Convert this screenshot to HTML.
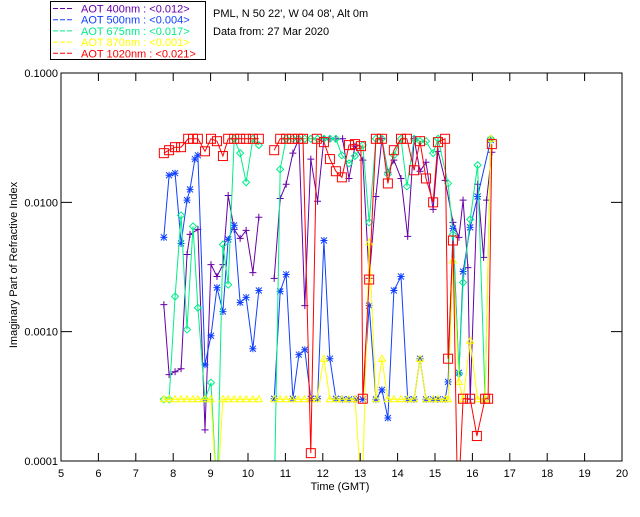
<!DOCTYPE html>
<html><head><meta charset="utf-8"><style>
body{margin:0;background:#fff;width:640px;height:512px;overflow:hidden;font-family:"Liberation Sans",sans-serif;}
svg text{font-family:"Liberation Sans",sans-serif;font-size:11px;}
</style></head><body>
<svg id="c" width="640" height="512" viewBox="0 0 640 512">
<rect x="0" y="0" width="640" height="512" fill="#fff"/>
<g>
<rect x="50.5" y="1.5" width="155" height="58" fill="#fff" stroke="#000"/>
</g>
<text x="213" y="17">PML, N 50 22', W 04 08', Alt 0m</text>
<text x="213" y="35">Data from: 27 Mar 2020</text>
<defs><clipPath id="clip"><rect x="61" y="73" width="561" height="388"/></clipPath></defs>
<g id="plot" clip-path="url(#clip)"></g>
<g id="axes"></g>
<text x="0" y="0" transform="translate(17,265) rotate(-90)" text-anchor="middle">Imaginary Part of Refractive Index</text>
<text x="340" y="490" text-anchor="middle">Time (GMT)</text>
</svg>
<script>
const xTicks=[5,6,7,8,9,10,11,12,13,14,15,16,17,18,19,20];
const yTicks=[0.1,0.01,0.001,0.0001];
const yTickLabels=["0.1000","0.0100","0.0010","0.0001"];
const legendLabels=["AOT  400nm : <0.012>","AOT  500nm : <0.004>","AOT  675nm : <0.017>","AOT  870nm : <0.001>","AOT 1020nm : <0.021>"];
const colors=["#6600aa","#1040ff","#00ee88","#ffff00","#ff0000"];
const markers=["plus","star","diamond","triangle","square"];

const t400=[7.75,7.89,8.05,8.21,8.37,8.45,8.66,8.85,9.01,9.17,9.33,9.47,9.63,9.79,9.95,10.13,10.29,null,10.70,10.86,11.02,11.20,11.36,11.52,11.68,11.86,12.03,12.19,12.35,12.53,12.70,12.86,13.07,13.24,13.42,13.58,13.74,13.90,14.09,14.27,14.44,14.60,14.76,14.95,15.08,15.27,15.48,15.64,15.75,15.88,15.94,16.14,16.30,16.38,16.52];
const v400=[.00162,.000465,.00049,.000517,.00395,.00565,.00618,.000174,.0033,.00267,.0033,.0113,.00618,.00526,.00607,.00286,.00766,null,.00258,.0107,.0138,.024,.031,.00159,.0216,.0102,.031,.031,.031,.031,.0153,.0272,.0212,.00258,.0111,.031,.0171,.0212,.0153,.00545,.031,.0174,.0204,.00883,.0248,.0148,.007,.00536,.0104,.00313,.0003,.0138,.00375,.0104,.0244];

const t500=[7.75,7.89,8.05,8.21,8.37,8.45,8.58,8.66,8.85,9.01,9.17,9.33,9.47,9.63,9.79,9.95,10.13,10.29,null,10.70,10.86,11.02,11.20,11.36,11.52,11.68,11.86,12.03,12.19,12.35,12.53,12.70,12.89,13.07,13.24,13.42,13.58,13.74,13.90,14.09,14.27,14.44,14.60,14.76,14.95,15.08,15.27,15.35,15.48,15.64,15.75,15.94,16.14,16.49];
const v500=[.00536,.0162,.0168,.00481,.0104,.0126,.0216,.0231,.000555,.00093,.00219,.00143,.00517,.00664,.00168,.00184,.000738,.00208,null,.000303,.00205,.00277,.000303,.000664,.000725,.000303,.000303,.00507,.000618,.000303,.0003,.0003,.0003,.0003,.00159,.0003,.000355,.000215,.00208,.00267,.0003,.0003,.000618,.0003,.0003,.0003,.0003,.000409,.00628,.000481,.00292,.0064,.0111,.0303];

const t675=[7.75,7.89,8.05,8.21,8.37,8.53,8.66,8.85,9.01,9.17,9.33,9.47,9.63,9.79,9.95,10.13,10.29,null,10.70,10.86,11.02,11.20,11.36,11.52,11.68,11.86,12.03,12.19,12.35,12.51,12.70,12.86,13.07,13.24,13.42,13.58,13.74,13.90,14.09,14.25,14.44,14.60,14.76,14.95,15.08,15.35,15.48,15.64,15.75,15.94,16.14,16.34,16.49];
const v675=[.0003,.0003,.00187,.00793,.00104,.00652,.00153,.0003,.000403,.00005,.00472,.00231,.031,.024,.0143,.031,.0277,null,.00005,.018,.031,.031,.031,.031,.031,.031,.031,.031,.031,.0231,.02,.0228,.0277,.007,.031,.031,.0165,.0231,.031,.0133,.031,.0297,.0297,.024,.031,.014,.00565,.000472,.0024,.00738,.0194,.0003,.031];

const t870=[7.75,7.89,8.05,8.21,8.37,8.53,8.66,8.85,9.01,9.17,9.33,9.47,9.63,9.79,9.95,10.13,10.29,null,10.70,10.86,11.02,11.18,11.34,11.51,11.68,11.84,12.03,12.19,12.35,12.51,12.70,12.86,13.05,13.24,13.42,13.58,13.74,13.90,14.09,14.25,14.44,14.60,14.76,14.95,15.08,15.27,15.35,15.48,15.64,15.75,15.94,16.14,16.34,16.49];
const v870=[.0003,.0003,.0003,.0003,.0003,.0003,.0003,.0003,.0003,.00005,.0003,.0003,.0003,.0003,.0003,.0003,.0003,null,.0003,.0003,.0003,.0003,.0003,.0003,.0003,.0003,.000618,.0003,.0003,.0003,.0003,.0003,.00005,.0049,.0003,.000618,.0003,.0003,.0003,.0003,.0003,.000618,.0003,.0003,.0003,.0003,.0003,.00355,.000409,.0003,.00085,.0003,.0003,.031];

const t1020=[7.75,7.89,8.05,8.21,8.40,8.53,8.66,8.85,9.01,9.17,9.33,9.47,9.63,9.79,9.95,10.13,10.29,null,10.70,10.86,11.02,11.18,11.34,11.47,11.68,11.84,12.03,12.19,12.35,12.51,12.70,12.86,13.02,13.07,13.24,13.42,13.58,13.74,13.90,14.09,14.25,14.44,14.60,14.76,14.95,15.08,15.27,15.35,15.48,15.61,15.75,15.94,16.12,16.34,16.42,16.52];
const v1020=[.024,.0253,.0267,.0267,.031,.031,.031,.0248,.031,.0297,.0228,.031,.031,.031,.031,.031,.031,null,.0253,.031,.031,.031,.031,.031,.000115,.031,.0292,.0216,.0174,.0156,.0277,.0282,.0272,.000303,.00253,.031,.031,.014,.0253,.031,.031,.0177,.0297,.0153,.01,.0292,.031,.000618,.00507,.00004,.000303,.000303,.000156,.000303,.000303,.0282];

const seriesT=[t400,t500,t675,t870,t1020];
const seriesV=[v400,v500,v675,v870,v1020];
const seriesNames=["aot-400nm","aot-500nm","aot-675nm","aot-870nm","aot-1020nm"];

const X0=61,X1=622,Y0=73,Y1=461;
function xs(t){return X0+(t-5)/15*(X1-X0);}
function ys(v){return Y0+(-1-Math.log10(v))/3*(Y1-Y0);}
const NS="http://www.w3.org/2000/svg";
function mk(tag,attrs,parent){const e=document.createElementNS(NS,tag);for(const k in attrs)e.setAttribute(k,attrs[k]);parent.appendChild(e);return e;}
const svg=document.getElementById('c'),plot=document.getElementById('plot'),axes=document.getElementById('axes');

legendLabels.forEach((lab,i)=>{
  const y=8.5+i*11.2;
  const g=mk('g',{},svg);
  
  
  mk('line',{x1:53,y1:y,x2:73,y2:y,stroke:colors[i],'stroke-dasharray':'5,2'},g);
  const tx=mk('text',{x:81,y:y+4,fill:colors[i],'xml:space':'preserve'},g);
  tx.textContent=lab;
});

seriesT.forEach((ts,i)=>{
  const vs=seriesV[i];
  const g=mk('g',{},plot);
  
  
  let d='',pen=false;
  ts.forEach((t,j)=>{
    if(t===null||vs[j]===null){pen=false;return;}
    d+=(pen?'L':'M')+xs(t).toFixed(1)+' '+ys(vs[j]).toFixed(1);pen=true;
  });
  mk('path',{d:d,fill:'none',stroke:colors[i],'stroke-width':1},g);
  ts.forEach((t,j)=>{
    if(t===null||vs[j]===null)return;
    const x=xs(t),y=ys(vs[j]),c=colors[i],s=3.5;let m;
    if(markers[i]==='plus')m=mk('path',{d:`M${x-s} ${y}H${x+s}M${x} ${y-s}V${y+s}`,stroke:c,fill:'none'},g);
    else if(markers[i]==='star')m=mk('path',{d:`M${x-s} ${y}H${x+s}M${x} ${y-s}V${y+s}M${x-3} ${y-3}L${x+3} ${y+3}M${x-3} ${y+3}L${x+3} ${y-3}`,stroke:c,fill:'none'},g);
    else if(markers[i]==='diamond')m=mk('path',{d:`M${x} ${y-s}L${x+s} ${y}L${x} ${y+s}L${x-s} ${y}Z`,stroke:c,fill:'none'},g);
    else if(markers[i]==='triangle')m=mk('path',{d:`M${x} ${y-s}L${x+s} ${y+2.5}L${x-s} ${y+2.5}Z`,stroke:c,fill:'none'},g);
    else m=mk('rect',{x:x-4.5,y:y-4.5,width:9,height:9,stroke:c,fill:'none'},g);
    
    
  });
});

const fr=mk('rect',{x:X0,y:Y0,width:X1-X0,height:Y1-Y0,fill:'none',stroke:'#000'},axes);


xTicks.forEach(t=>{
  const x=xs(t);
  const tk=mk('path',{d:`M${x} ${Y1}V${Y1-8}M${x} ${Y0}V${Y0+8}`,stroke:'#000'},axes);
  
  
  const lb=mk('text',{x:x,y:Y1+16,'text-anchor':'middle'},axes);
  
  
  lb.textContent=String(t);
});
yTicks.forEach((v,i)=>{
  const y=ys(v);
  const tk=mk('path',{d:`M${X0} ${y}H${X0+11}M${X1} ${y}H${X1-11}`,stroke:'#000'},axes);
  
  
  const lb=mk('text',{x:X0-3,y:y+4,'text-anchor':'end'},axes);
  
  
  lb.textContent=yTickLabels[i];
});
</script>
</body></html>
